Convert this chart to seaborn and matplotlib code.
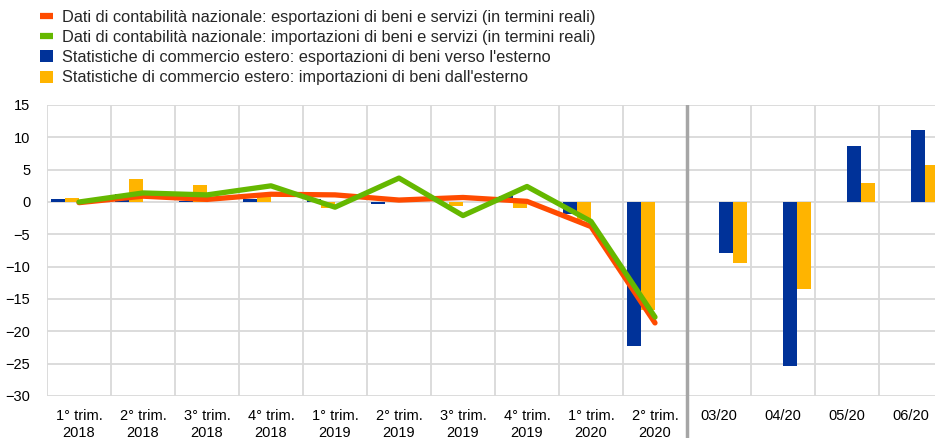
import numpy as np
import pandas as pd
import matplotlib
matplotlib.use("Agg")
import matplotlib.pyplot as plt
from matplotlib.lines import Line2D
from matplotlib.patches import Patch
import seaborn as sns

# ---------------- data ----------------
quarters = ["1° trim.\n2018", "2° trim.\n2018", "3° trim.\n2018", "4° trim.\n2018",
            "1° trim.\n2019", "2° trim.\n2019", "3° trim.\n2019", "4° trim.\n2019",
            "1° trim.\n2020", "2° trim.\n2020"]
months = ["03/20", "04/20", "05/20", "06/20"]

na_exports = [-0.1, 0.9, 0.4, 1.2, 1.1, 0.3, 0.7, 0.1, -3.8, -18.7]
na_imports = [0.0, 1.4, 1.1, 2.5, -0.8, 3.7, -2.1, 2.4, -3.0, -17.8]

trade_exp_q = [0.4, 1.3, 0.1, 0.5, 0.5, -0.3, 0.0, 0.9, -1.8, -22.3]
trade_imp_q = [0.6, 3.5, 2.6, 0.9, -0.9, 0.0, -0.6, -1.0, -2.8, -16.7]
trade_exp_m = [-7.9, -25.3, 8.6, 11.2]
trade_imp_m = [-9.4, -13.4, 3.0, 5.7]

labels = [
    "Dati di contabilità nazionale: esportazioni di beni e servizi (in termini reali)",
    "Dati di contabilità nazionale: importazioni di beni e servizi (in termini reali)",
    "Statistiche di commercio estero: esportazioni di beni verso l'esterno",
    "Statistiche di commercio estero: importazioni di beni dall'esterno",
]

# ---------------- style ----------------
ORANGE = "#FF4B00"
GREEN = "#65B800"
BLUE = "#003299"
YELLOW = "#FFB400"
GRID = "#D9D9D9"

sns.set_theme(style="white")
plt.rcParams["font.family"] = ["Liberation Sans", "DejaVu Sans"]

categories = quarters + months
rows = []
for c, v in zip(quarters, trade_exp_q):
    rows.append((c, "qe", v))
for c, v in zip(quarters, trade_imp_q):
    rows.append((c, "qi", v))
for c, v in zip(months, trade_exp_m):
    rows.append((c, "me", v))
for c, v in zip(months, trade_imp_m):
    rows.append((c, "mi", v))
bars = pd.DataFrame(rows, columns=["cat", "series", "value"])

lines = pd.DataFrame({
    "cat": quarters * 2,
    "value": na_exports + na_imports,
    "series": ["exp"] * len(quarters) + ["imp"] * len(quarters),
})

fig = plt.figure(figsize=(9.35, 4.38), dpi=100)
ax = fig.add_axes([47 / 935, 1 - 396 / 438, 1 - 47 / 935, (396 - 105) / 438])

sns.barplot(data=bars, x="cat", y="value", hue="series",
            order=categories, hue_order=["qe", "qi", "me", "mi"],
            palette=[BLUE, YELLOW, BLUE, YELLOW], saturation=1,
            width=0.875, gap=0,
            errorbar=None, linewidth=0, legend=False, ax=ax, zorder=2)

sns.lineplot(data=lines[lines.series == "exp"], x="cat", y="value", sort=False,
             color=ORANGE, linewidth=3.8, ax=ax, legend=False, zorder=3)
sns.lineplot(data=lines[lines.series == "imp"], x="cat", y="value", sort=False,
             color=GREEN, linewidth=3.8, ax=ax, legend=False, zorder=4)

ax.set_xlim(-0.5, 13.375)
ax.set_ylim(-30, 15)
ax.set_yticks(np.arange(-30, 16, 5))
ax.set_xlabel("")
ax.set_ylabel("")

# grid
for y in np.arange(-30, 16, 5):
    ax.axhline(y, color=GRID, linewidth=1.3, zorder=0)
for x in np.arange(-0.5, 14, 1.0):
    ax.axvline(x, color=GRID, linewidth=1.3, zorder=0)

for s in ax.spines.values():
    s.set_visible(False)

# separator between quarterly and monthly data
sep = Line2D([9.5, 9.5], [0, -0.145], transform=ax.get_xaxis_transform(),
             color="#A6A6A6", linewidth=2.5, clip_on=False, zorder=5)
ax.add_line(sep)
ax.plot([9.5, 9.5], [0, 1], transform=ax.get_xaxis_transform(),
        color="#A6A6A6", linewidth=2.5, zorder=5)

ax.tick_params(axis="both", length=0, labelsize=10.5, colors="black")
ax.tick_params(axis="y", pad=12)
ax.tick_params(axis="x", pad=9)
ax.set_xticks(range(len(categories)))
ax.set_xticklabels(categories, linespacing=1.3)

handles = [
    Line2D([], [], color=ORANGE, linewidth=4.5, solid_capstyle="butt"),
    Line2D([], [], color=GREEN, linewidth=4.5, solid_capstyle="butt"),
    Patch(facecolor=BLUE, edgecolor="none"),
    Patch(facecolor=YELLOW, edgecolor="none"),
]
fig.legend(handles, labels, loc="upper left", bbox_to_anchor=(40 / 935, 1 - 10 / 438),
           frameon=False, fontsize=11.8, handlelength=0.8, handleheight=0.75,
           handletextpad=0.55, labelspacing=0.31, borderpad=0, borderaxespad=0)

fig.savefig("out.png", dpi=100)
